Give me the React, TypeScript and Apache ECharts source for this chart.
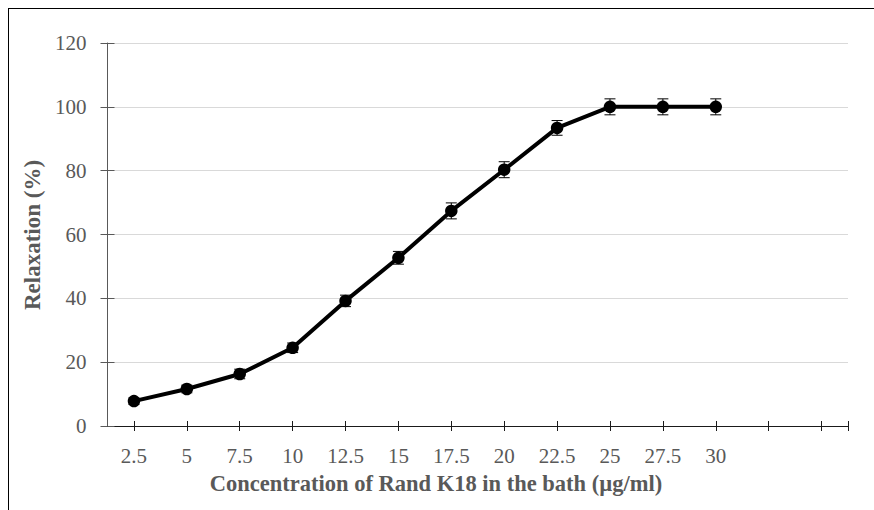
import React, { useEffect, useRef } from "react";
import * as echarts from "echarts";

const categories = [2.5, 5, 7.5, 10, 12.5, 15, 17.5, 20, 22.5, 25, 27.5, 30];
const relaxation = [7.8, 11.6, 16.3, 24.5, 39.2, 52.7, 67.4, 80.3, 93.4, 100, 100, 100];
const errors = [1.0, 1.2, 1.5, 1.5, 1.8, 2.0, 2.5, 2.5, 2.3, 2.5, 2.5, 2.5];
const xTickValues = [2.5, 5, 7.5, 10, 12.5, 15, 17.5, 20, 22.5, 25, 27.5, 30, 32.5, 35, 36.25];
const xTitle = "Concentration of Rand K18 in the bath (µg/ml)";
const yTitle = "Relaxation (%)";

const FONT = "'Liberation Serif', 'Times New Roman', serif";
const GRAY = "#595959";

export default function App() {
  const ref = useRef<HTMLDivElement>(null);

  useEffect(() => {
    document.documentElement.style.overflow = "hidden";
    document.body.style.margin = "0";
    document.body.style.overflow = "hidden";
    if (!ref.current) return;
    const chart = echarts.init(ref.current, null, { renderer: "svg" });

    const xBase = {
      type: "value",
      min: 1.25,
      max: 36.25,
      position: "bottom",
      splitLine: { show: false },
    };
    const yBase = {
      type: "value",
      min: 0,
      max: 120,
      interval: 20,
      position: "left",
    };

    chart.setOption({
      animation: false,
      grid: { left: 98.5, top: 34, right: 26, bottom: 84, containLabel: false },
      xAxis: [
        {
          ...xBase,
          axisLine: { show: true, lineStyle: { color: "#1a1a1a", width: 1 } },
          axisTick: {
            show: true,
            customValues: xTickValues,
            length: 5,
            inside: false,
            lineStyle: { color: "#1a1a1a", width: 1 },
          },
          axisLabel: {
            customValues: categories,
            formatter: (v: number) => String(v),
            color: GRAY,
            fontFamily: FONT,
            fontSize: 21,
            margin: 19,
          },
        },
        {
          ...xBase,
          axisLine: { show: false },
          axisTick: {
            show: true,
            customValues: xTickValues,
            length: 5,
            inside: true,
            lineStyle: { color: "#1a1a1a", width: 1 },
          },
          axisLabel: { show: false },
        },
      ],
      yAxis: [
        {
          ...yBase,
          axisLine: { show: true, lineStyle: { color: GRAY, width: 1 } },
          axisTick: { show: true, length: 7, inside: false, lineStyle: { color: GRAY, width: 1 } },
          splitLine: { show: true, lineStyle: { color: "#d9d9d9", width: 1 } },
          axisLabel: { color: GRAY, fontFamily: FONT, fontSize: 21, margin: 21 },
        },
        {
          ...yBase,
          axisLine: { show: false },
          axisTick: { show: true, length: 7, inside: true, lineStyle: { color: GRAY, width: 1 } },
          splitLine: { show: false },
          axisLabel: { show: false },
        },
      ],
      graphic: [
        {
          type: "text",
          x: 23,
          y: 226,
          rotation: Math.PI / 2,
          style: {
            text: yTitle,
            fill: GRAY,
            font: `bold 23px ${FONT}`,
            align: "center",
            verticalAlign: "middle",
          },
        },
        {
          type: "text",
          x: 427,
          y: 474,
          style: {
            text: xTitle,
            fill: GRAY,
            font: `bold 22.5px ${FONT}`,
            align: "center",
            verticalAlign: "middle",
          },
        },
      ],
      series: [
        {
          type: "custom",
          xAxisIndex: 0,
          yAxisIndex: 0,
          z: 1,
          data: categories.map((c, i) => [c, relaxation[i], errors[i]]),
          encode: { x: 0, y: 1 },
          renderItem: (params: any, api: any) => {
            const x = api.value(0);
            const y = api.value(1);
            const e = api.value(2);
            const top = api.coord([x, y + e]);
            const bot = api.coord([x, y - e]);
            const w = 5.5;
            const style = { stroke: "#000", lineWidth: 1 };
            return {
              type: "group",
              children: [
                { type: "line", shape: { x1: top[0], y1: top[1], x2: bot[0], y2: bot[1] }, style },
                { type: "line", shape: { x1: top[0] - w, y1: top[1], x2: top[0] + w, y2: top[1] }, style },
                { type: "line", shape: { x1: bot[0] - w, y1: bot[1], x2: bot[0] + w, y2: bot[1] }, style },
              ],
            };
          },
        },
        {
          type: "line",
          xAxisIndex: 0,
          yAxisIndex: 0,
          z: 2,
          data: categories.map((c, i) => [c, relaxation[i]]),
          symbol: "circle",
          symbolSize: 12.5,
          showSymbol: true,
          lineStyle: { color: "#000", width: 4 },
          itemStyle: { color: "#000" },
        },
      ],
    });

    return () => chart.dispose();
  }, []);

  return (
    <div
      style={{
        position: "absolute",
        left: 8,
        top: 8,
        width: 865,
        height: 501,
        borderLeft: "1px solid #000",
        borderTop: "1px solid #000",
        background: "#fff",
      }}
    >
      <div ref={ref} style={{ width: 865, height: 501 }} />
    </div>
  );
}
